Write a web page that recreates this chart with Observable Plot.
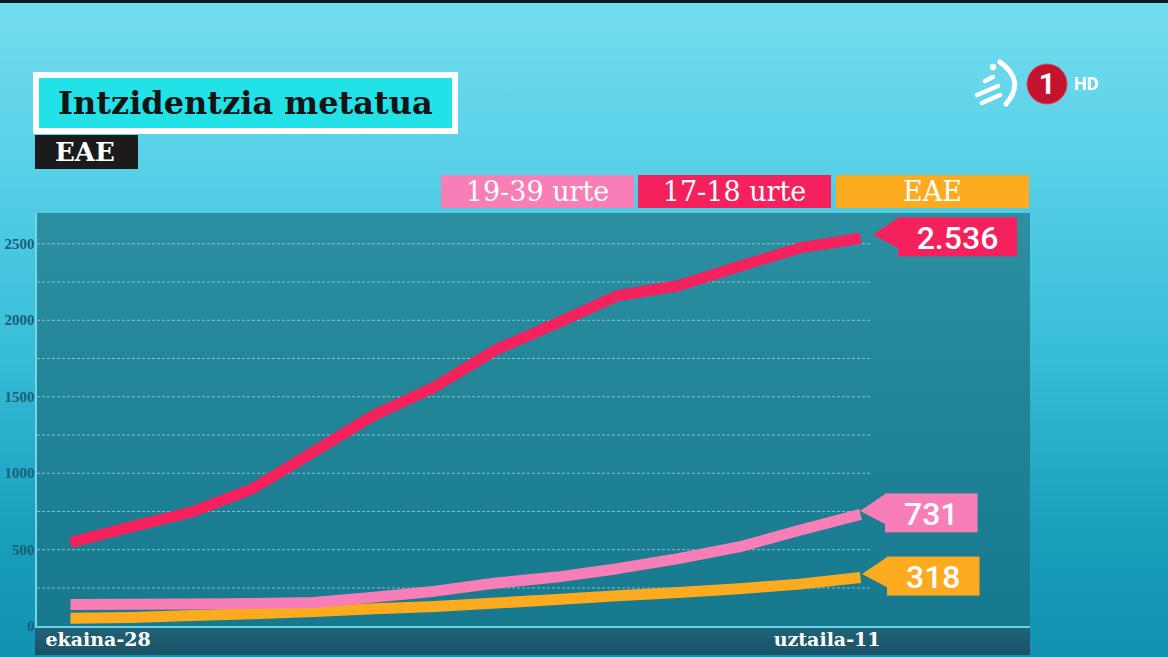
<!DOCTYPE html>
<html>
<head>
<meta charset="utf-8">
<script src="https://cdn.jsdelivr.net/npm/d3@7"></script>
<script src="https://cdn.jsdelivr.net/npm/@observablehq/plot@0.6"></script>
<style>
html,body{margin:0;padding:0;}
body{width:1168px;height:657px;overflow:hidden;position:relative;
  background:linear-gradient(180deg,#74ddf0 0%,#58d0e8 25%,#36bcd7 55%,#1a9fbd 80%,#1192b2 100%);}
#topbar{position:absolute;left:0;top:0;width:1168px;height:3px;background:#0c1c24;}
#panel{position:absolute;left:35px;top:213px;width:995px;height:415px;box-sizing:border-box;
  background:linear-gradient(180deg,#2c8fa2 0%,#218497 45%,#17798e 100%);border-left:2px solid #74d5e4;}
#band{position:absolute;left:35px;top:626px;width:995px;height:29px;box-sizing:border-box;
  background:linear-gradient(180deg,#206378 0%,#1a5266 100%);border-top:2px solid #62d3e6;}
#title{position:absolute;left:33px;top:72px;width:425px;height:62px;box-sizing:border-box;
  border:6px solid #ffffff;background:#22e1e7;color:#141414;
  font-family:"DejaVu Serif",serif;font-weight:bold;font-size:32px;line-height:50px;padding-left:19px;white-space:nowrap;}
#sub{position:absolute;left:35px;top:135px;width:103px;height:34px;background:#1b1b1b;color:#fff;
  font-family:"DejaVu Serif",serif;font-weight:bold;font-size:26px;line-height:34px;padding-left:20px;box-sizing:border-box;}
.leg{position:absolute;top:175px;height:33px;width:193px;color:#fff;text-align:center;
  font-family:"DejaVu Serif",serif;font-size:27px;line-height:33px;white-space:nowrap;}
#chart{position:absolute;left:0;top:213px;}
#logo{position:absolute;left:968px;top:55px;}
</style>
</head>
<body>
<div id="topbar"></div>
<div id="panel"></div>
<div id="band"></div>
<div id="title">Intzidentzia metatua</div>
<div id="sub">EAE</div>
<div id="legend"></div>
<svg id="logo" width="150" height="60" viewBox="0 0 150 60">
  <path d="M 32 7 Q 58 26 38 49" stroke="#fff" stroke-width="5" fill="none" stroke-linecap="round"/>
  <circle cx="25" cy="12" r="3.2" fill="#fff"/>
  <line x1="17" y1="26" x2="25" y2="22" stroke="#fff" stroke-width="4.5" stroke-linecap="round"/>
  <line x1="9" y1="40" x2="30" y2="31" stroke="#fff" stroke-width="4.5" stroke-linecap="round"/>
  <line x1="14" y1="48" x2="32" y2="40" stroke="#fff" stroke-width="4.5" stroke-linecap="round"/>
  <circle cx="79" cy="29" r="20" fill="#c4132f" stroke="#e04660" stroke-width="1"/>
  <text x="79" y="39" text-anchor="middle" fill="#fff" font-family="Roboto, 'DejaVu Sans', sans-serif" font-weight="bold" font-size="29">1</text>
  <text x="106" y="35" fill="#fff" font-family="Roboto, 'DejaVu Sans', sans-serif" font-weight="bold" font-size="18">HD</text>
</svg>
<div id="chart"></div>
<script>
// ---- data ----
const dates = ["2021-06-28","2021-06-29","2021-06-30","2021-07-01","2021-07-02","2021-07-03","2021-07-04",
               "2021-07-05","2021-07-06","2021-07-07","2021-07-08","2021-07-09","2021-07-10","2021-07-11"];
const seriesNames = ["19-39 urte", "17-18 urte", "EAE"];
const seriesColors = ["#f77eb6", "#f5215d", "#fcab1f"];
const values1939 = [142, 143, 145, 148, 155, 190, 229, 282, 321, 376, 442, 518, 627, 731];
const values1718 = [548, 649, 747, 900, 1140, 1381, 1566, 1807, 1981, 2160, 2226, 2352, 2473, 2536];
const valuesEAE  = [52, 57, 70, 81, 96, 114, 129, 151, 175, 199, 221, 245, 275, 318];
const yTickValues = [0, 500, 1000, 1500, 2000, 2500];
const gridValues = [250, 500, 750, 1000, 1250, 1500, 1750, 2000, 2250, 2500];
const xTickLabels = ["ekaina-28", "uztaila-11"];
const yMax = 2698;

// ---- build table ----
const parse = d3.utcParse("%Y-%m-%d");
const seriesValues = {"19-39 urte": values1939, "17-18 urte": values1718, "EAE": valuesEAE};
const drawOrder = ["EAE", "19-39 urte", "17-18 urte"];
const rows = drawOrder.flatMap(s => seriesValues[s].map((v, i) => ({series: s, date: parse(dates[i]), value: v})));
const lastRows = seriesNames.map(s => ({series: s, date: parse(dates[dates.length - 1]), value: seriesValues[s][seriesValues[s].length - 1]}));
const xLabelRows = [
  {date: parse(dates[0]), label: xTickLabels[0]},
  {date: parse(dates[dates.length - 1]), label: xTickLabels[1]}
];
const colorOf = Object.fromEntries(seriesNames.map((s, i) => [s, seriesColors[i]]));
const eu = d3.formatLocale({decimal: ",", thousands: ".", grouping: [3], currency: ["", " €"]});
const fmt = eu.format(",d");

// legend
const legend = document.getElementById("legend");
const legLeft = [441, 638, 836];
seriesNames.forEach((s, i) => {
  const d = document.createElement("div");
  d.className = "leg";
  d.style.left = legLeft[i] + "px";
  d.style.background = seriesColors[i];
  d.textContent = s;
  legend.appendChild(d);
});

// value label boxes (pointer + box), positioned from the plot's scales
const boxOffset = {"17-18 urte": 38, "19-39 urte": 25, "EAE": 27};
function valueLabels(index, scales) {
  const g = d3.create("svg:g");
  for (const r of lastRows) {
    const x0 = scales.x(r.date), y0 = scales.y(r.value);
    const txt = fmt(r.value);
    const digits = txt.replace(/\D/g, "").length, dots = txt.length - digits;
    const w = digits * 18.5 + dots * 8 + 37, h = 39;
    const bx = x0 + boxOffset[r.series], top = y0 - h / 2 - 1;
    const c = colorOf[r.series];
    g.append("path")
      .attr("d", `M${bx + 1},${top} L${bx - 25},${top + h * 0.45} L${bx + 1},${top + h * 0.8} Z`)
      .attr("fill", c);
    g.append("rect").attr("x", bx).attr("y", top).attr("width", w).attr("height", h).attr("fill", c);
    g.append("text").attr("x", bx + w / 2).attr("y", top + h / 2 + 1)
      .attr("text-anchor", "middle").attr("dominant-baseline", "central")
      .attr("fill", "#fff").attr("font-family", "Roboto, 'Open Sans', sans-serif")
      .attr("font-weight", 500).attr("font-size", 32).text(txt);
  }
  return g.node();
}

const plot = Plot.plot({
  width: 1168,
  height: 444,
  marginLeft: 37,
  marginRight: 296,
  marginTop: 0,
  marginBottom: 31.3,
  style: {background: "transparent", overflow: "visible", color: "#1b5f78",
          fontFamily: "'Liberation Serif', serif", fontSize: "15px", fontWeight: "bold"},
  x: {type: "utc", domain: [parse(dates[0]), parse(dates[dates.length - 1])], range: [70, 860], axis: null},
  y: {domain: [0, yMax], ticks: yTickValues, tickSize: 0, tickPadding: 3, tickFormat: d3.format("d"), label: null},
  color: {domain: seriesNames, range: seriesColors},
  marks: [
    Plot.ruleY(gridValues, {stroke: "#c2edf4", strokeOpacity: 0.6, strokeWidth: 1, strokeDasharray: "3,2"}),
    Plot.line(rows, {x: "date", y: "value", z: "series", stroke: "series", strokeWidth: 11,
                     strokeLinecap: "butt", strokeLinejoin: "round"}),
    Plot.text(xLabelRows.slice(0, 1), {x: "date", text: "label", frameAnchor: "bottom", dy: 14, dx: -25,
      textAnchor: "start", lineAnchor: "middle", fill: "#fff", fontSize: 19, fontWeight: "bold", fontFamily: "'DejaVu Serif', serif"}),
    Plot.text(xLabelRows.slice(1), {x: "date", text: "label", frameAnchor: "bottom", dy: 14, dx: 20,
      textAnchor: "end", lineAnchor: "middle", fill: "#fff", fontSize: 19, fontWeight: "bold", fontFamily: "'DejaVu Serif', serif"}),
    valueLabels
  ]
});
document.getElementById("chart").appendChild(plot);
</script>
</body>
</html>
